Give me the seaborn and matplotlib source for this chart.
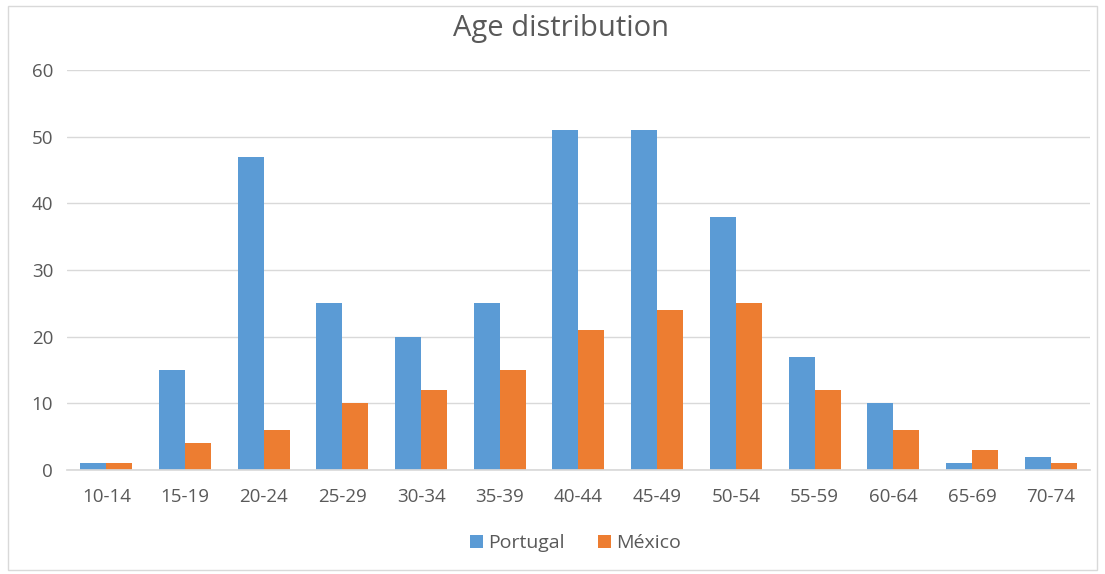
import matplotlib
matplotlib.use("Agg")
import matplotlib.pyplot as plt
import seaborn as sns
import pandas as pd
from matplotlib.patches import Rectangle

age_groups = ["10-14", "15-19", "20-24", "25-29", "30-34", "35-39", "40-44",
              "45-49", "50-54", "55-59", "60-64", "65-69", "70-74"]
portugal = [1, 15, 47, 25, 20, 25, 51, 51, 38, 17, 10, 1, 2]
mexico = [1, 4, 6, 10, 12, 15, 21, 24, 25, 12, 6, 3, 1]
series_names = ["Portugal", "México"]
y_ticks = [0, 10, 20, 30, 40, 50, 60]

df = pd.DataFrame({
    "age": age_groups * 2,
    "count": portugal + mexico,
    "country": [series_names[0]] * len(age_groups) + [series_names[1]] * len(age_groups),
})

sns.set_theme(style="white")
plt.rcParams["font.family"] = ["Open Sans", "DejaVu Sans"]

text_color = "#595959"
fig = plt.figure(figsize=(11.05, 5.74), dpi=100)
ax = fig.add_axes([0.0606, 0.1812, 0.9258, 0.6968])

sns.barplot(data=df, x="age", y="count", hue="country",
            palette=["#5B9BD5", "#ED7D31"], width=0.66, gap=0,
            saturation=1, linewidth=0, ax=ax, legend=True)

ax.set_ylim(0, 60)
ax.set_yticks(y_ticks)
ax.set_xlim(-0.5, len(age_groups) - 0.5)
ax.yaxis.grid(True, color="#D9D9D9", linewidth=1)
ax.set_axisbelow(True)
for side in ["left", "right", "top"]:
    ax.spines[side].set_visible(False)
ax.spines["bottom"].set_color("#D9D9D9")
ax.tick_params(axis="both", length=0, colors=text_color, labelsize=13.5)
ax.tick_params(axis="x", pad=13)
ax.tick_params(axis="y", pad=10)
ax.set_xlabel("")
ax.set_ylabel("")

fig.text(0.508, 0.951, "Age distribution", ha="center", va="center",
         fontsize=21, color=text_color)

handles, labels = ax.get_legend_handles_labels()
ax.legend(handles, labels, loc="center", bbox_to_anchor=(0.497, -0.183),
          ncol=2, frameon=False, fontsize=14, labelcolor=text_color,
          handlelength=0.7, handleheight=0.7, handletextpad=0.25, columnspacing=1.7)

# thin chart-area border
fig.patches.append(Rectangle((0.007, 0.007), 0.986, 0.982, transform=fig.transFigure,
                             fill=False, edgecolor="#D9D9D9", linewidth=1))

fig.savefig("out.png", dpi=100)
